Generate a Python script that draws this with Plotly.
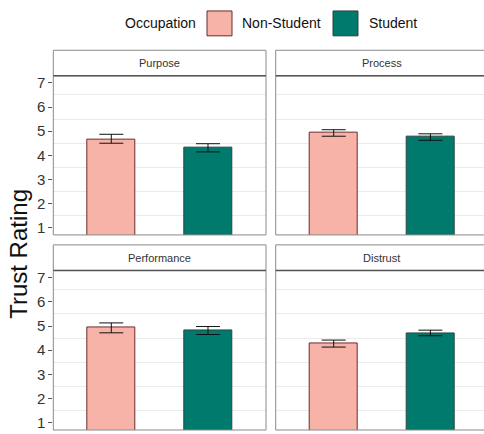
import plotly.graph_objects as go

# Mean trust ratings per dimension, split by occupation, with interval bounds
facets = ["Purpose", "Process", "Performance", "Distrust"]
groups = ["Non-Student", "Student"]
non_student_mean = [4.66, 4.93, 4.93, 4.27]
non_student_upper = [4.87, 5.06, 5.13, 4.42]
non_student_lower = [4.50, 4.79, 4.72, 4.13]
student_mean = [4.31, 4.77, 4.83, 4.71]
student_upper = [4.48, 4.89, 4.98, 4.83]
student_lower = [4.14, 4.62, 4.65, 4.60]
y_ticks = [1, 2, 3, 4, 5, 6, 7]

W, H = 484, 434
fill_colors = ["#F8B3A9", "#007A6C"]
edge_colors = ["#6b2a2a", "#2c4440"]
font_family = "Liberation Sans, Arial, sans-serif"


def px(x):
    return x / W


def py(y):
    return 1 - y / H


# panel geometry (pixels): x0, x1, strip top, strip bottom / plot top, plot bottom
panels = [
    (53.3, 266.0, 49.5, 75.0, 235.0),
    (275.7, 488.0, 49.5, 75.0, 235.0),
    (53.3, 266.0, 245.0, 270.7, 431.0),
    (275.7, 488.0, 245.0, 270.7, 431.0),
]

fig = go.Figure()
layout = {}
shapes = []
annotations = []

for i, (name, (x0, x1, s0, p0, p1)) in enumerate(zip(facets, panels)):
    idx = "" if i == 0 else str(i + 1)
    xa, ya = "x" + idx, "y" + idx
    means = [non_student_mean[i], student_mean[i]]
    ups = [non_student_upper[i] - non_student_mean[i], student_upper[i] - student_mean[i]]
    downs = [non_student_mean[i] - non_student_lower[i], student_mean[i] - student_lower[i]]
    fig.add_trace(go.Bar(
        x=[1, 2], y=means, width=0.5,
        marker=dict(color=fill_colors, line=dict(color=edge_colors, width=1)),
        error_y=dict(type="data", symmetric=False, array=ups, arrayminus=downs,
                     color="#111111", thickness=1, width=12),
        xaxis=xa, yaxis=ya, showlegend=False, hoverinfo="skip",
    ))
    x_dom_end = min(px(x1), 1.0)
    unit = (266.0 - 53.3) / 2.2
    x_hi = 0.4 + (min(x1, W) - x0) / unit
    left = i % 2 == 0
    layout["xaxis" + idx] = dict(
        domain=[px(x0), x_dom_end], range=[0.4, x_hi], anchor=ya,
        showticklabels=False, ticks="", showgrid=False, zeroline=False, showline=False,
    )
    layout["yaxis" + idx] = dict(
        domain=[py(p1), py(p0)], range=[0.7, 7.3], anchor=xa,
        tickvals=y_ticks, showticklabels=left,
        ticks="outside" if left else "", ticklen=4, tickwidth=1, tickcolor="#555555",
        tickfont=dict(size=15, color="#333333", family=font_family),
        showgrid=False, zeroline=False, showline=False,
        minor=dict(tickvals=[1.5, 2.5, 3.5, 4.5, 5.5, 6.5], showgrid=True,
                   gridcolor="#ebebeb", gridwidth=1, ticks=""),
    )
    # panel border
    shapes.append(dict(type="rect", xref="paper", yref="paper", layer="above",
                       x0=px(x0), x1=px(x1), y0=py(p1), y1=py(p0),
                       line=dict(color="#8a8a8a", width=1), fillcolor="rgba(0,0,0,0)"))
    # strip box
    shapes.append(dict(type="rect", xref="paper", yref="paper", layer="above",
                       x0=px(x0), x1=px(x1), y0=py(p0), y1=py(s0),
                       line=dict(color="#8a8a8a", width=1), fillcolor="white"))
    shapes.append(dict(type="line", xref="paper", yref="paper", layer="above",
                       x0=px(x0), x1=px(x1), y0=py(p0), y1=py(p0),
                       line=dict(color="#555555", width=1.5)))
    annotations.append(dict(text=name, xref="paper", yref="paper",
                            x=px((x0 + min(x1, 488) + 0) / 2 if x1 < W else (x0 + 488) / 2),
                            y=py((s0 + p0) / 2), showarrow=False,
                            font=dict(size=11, color="#333333", family=font_family),
                            xanchor="center", yanchor="middle"))

# shared y-axis title
annotations.append(dict(text="Trust Rating", xref="paper", yref="paper",
                        x=px(19), y=py(254), textangle=-90, showarrow=False,
                        font=dict(size=24, color="#111111", family=font_family),
                        xanchor="center", yanchor="middle"))

# legend: title, keys and labels
annotations.append(dict(text="Occupation", xref="paper", yref="paper",
                        x=px(198), y=py(22.5), showarrow=False, xanchor="right", yanchor="middle",
                        font=dict(size=14, color="#111111", family=font_family)))
key_x = [207, 333]
label_x = [240, 367]
for g, kx, lx, fc, ec in zip(groups, key_x, label_x, fill_colors, edge_colors):
    shapes.append(dict(type="rect", xref="paper", yref="paper",
                       x0=px(kx), x1=px(kx + 25), y0=py(35), y1=py(10),
                       fillcolor=fc, line=dict(color=ec, width=1)))
    annotations.append(dict(text=g, xref="paper", yref="paper",
                            x=px(lx), y=py(22.5), showarrow=False, xanchor="left", yanchor="middle",
                            font=dict(size=14, color="#111111", family=font_family)))

fig.update_layout(
    width=W, height=H, margin=dict(l=0, r=0, t=0, b=0),
    paper_bgcolor="white", plot_bgcolor="white",
    shapes=shapes, annotations=annotations, bargap=0,
    font=dict(family=font_family),
    **layout,
)

fig.write_html("out.html")
